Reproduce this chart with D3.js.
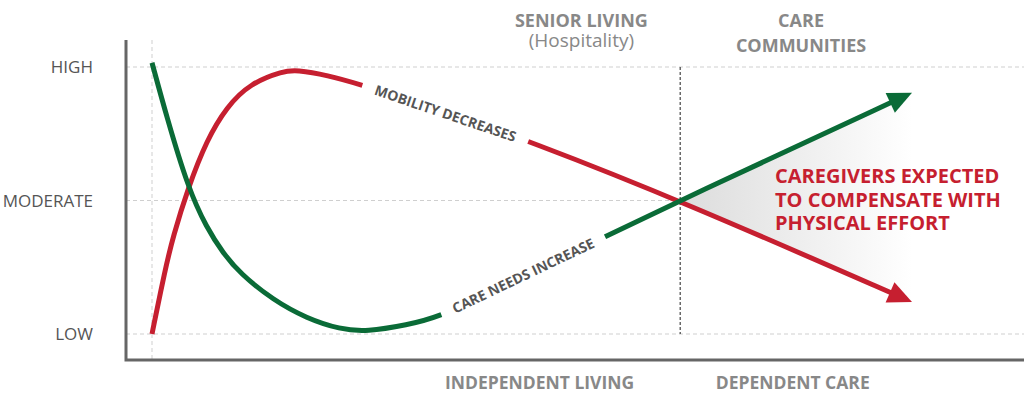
<!DOCTYPE html>
<html>
<head>
<meta charset="utf-8">
<script src="https://cdn.jsdelivr.net/npm/d3@7"></script>
<style>
  html, body { margin: 0; padding: 0; background: #fff; }
  svg { display: block; }
</style>
</head>
<body>
<div id="chart"></div>
<script>
// care-curve.js - mobility vs care needs across senior living stages

// levels on the y axis (0 = low, 2 = high)
const levels = ['LOW', 'MODERATE', 'HIGH'];

// mobility curve (red), x = progression 0..100
const mobilityX = [0, 1.71, 2.76, 4.74, 7.2, 9.83, 12.9, 17.3, 19.0, 23.0, 27.7, 37.9, 49.5, 69.5, 100];
const mobilityY = [0, 0.479, 0.727, 1.094, 1.453, 1.702, 1.877, 1.97, 1.978, 1.94, 1.865, 1.68, 1.448, 1.0, 0.24];

// care needs curve (green)
const careX = [0, 1.93, 4.74, 7.2, 9.38, 11.58, 15.96, 20.36, 24.74, 28.25, 33.5, 38.1, 48.4, 59.6, 69.5, 100];
const careY = [2.032, 1.627, 1.094, 0.794, 0.604, 0.454, 0.253, 0.117, 0.035, 0.017, 0.067, 0.129, 0.419, 0.729, 1.0, 1.807];

// where the inline labels sit (gap along the curve, in x units)
const mobilityGap = [27.7, 49.5];
const careGap = [38.1, 59.6];
const mobilityLabel = 'MOBILITY DECREASES';
const careLabel = 'CARE NEEDS INCREASE';

// stage split and stage names
const splitX = 69.5;
const topStages = [['SENIOR LIVING', '(Hospitality)'], ['CARE', 'COMMUNITIES']];
const bottomStages = ['INDEPENDENT LIVING', 'DEPENDENT CARE'];
const noteLines = ['CAREGIVERS EXPECTED', 'TO COMPENSATE WITH', 'PHYSICAL EFFORT'];

const RED = '#c61f30';
const GREEN = '#0a6b37';
const width = 1024, height = 406;

const svg = d3.select('#chart').append('svg')
  .attr('width', width)
  .attr('height', height);

const x = d3.scaleLinear().domain([0, 100]).range([152, 912]);
const y = d3.scaleLinear().domain([0, 2]).range([334, 67]);

const font = "'Open Sans', 'DejaVu Sans', sans-serif";

// gradient for the "compensate" wedge
const grad = svg.append('defs').append('linearGradient')
  .attr('id', 'wedge-grad')
  .attr('gradientUnits', 'userSpaceOnUse')
  .attr('x1', x(splitX)).attr('x2', x(100))
  .attr('y1', 0).attr('y2', 0);
grad.append('stop').attr('offset', '0%').attr('stop-color', '#dcdcdc');
grad.append('stop').attr('offset', '100%').attr('stop-color', '#ffffff');

// grid lines
svg.append('g').selectAll('line')
  .data(levels)
  .enter().append('line')
  .attr('x1', 126)
  .attr('x2', (d, i) => i === 1 ? x(splitX) : width)
  .attr('y1', (d, i) => y(i))
  .attr('y2', (d, i) => y(i))
  .attr('stroke', '#cfcfcf')
  .attr('stroke-width', 1)
  .attr('stroke-dasharray', '4,3');

svg.append('line')
  .attr('x1', x(0)).attr('x2', x(0))
  .attr('y1', 40).attr('y2', 360)
  .attr('stroke', '#cfcfcf')
  .attr('stroke-dasharray', '4,3');

// wedge between the two arrows
const mobEnd = [x(mobilityX[mobilityX.length - 1]), y(mobilityY[mobilityY.length - 1])];
const careEnd = [x(careX[careX.length - 1]), y(careY[careY.length - 1])];
svg.append('polygon')
  .attr('points', [[x(splitX), y(1)], careEnd, mobEnd].map(p => p.join(',')).join(' '))
  .attr('fill', 'url(#wedge-grad)');

// split line
svg.append('line')
  .attr('x1', x(splitX)).attr('x2', x(splitX))
  .attr('y1', y(2)).attr('y2', y(0))
  .attr('stroke', '#444')
  .attr('stroke-width', 1.2)
  .attr('stroke-dasharray', '3,2');

// axes
svg.append('path')
  .attr('d', `M126,40 V360 H${width}`)
  .attr('fill', 'none')
  .attr('stroke', '#666')
  .attr('stroke-width', 3);

svg.append('g').selectAll('text')
  .data(levels)
  .enter().append('text')
  .attr('x', 93)
  .attr('y', (d, i) => y(i))
  .attr('dy', '0.36em')
  .attr('text-anchor', 'end')
  .attr('fill', '#555')
  .style('font-family', font)
  .style('font-weight', 500)
  .style('font-size', '17px')
  .text(d => d);

const line = d3.line()
  .x(d => x(d[0]))
  .y(d => y(d[1]))
  .curve(d3.curveBasis);

// length along a path where it reaches a given x pixel
function lengthAtX(node, px) {
  let lo = 0, hi = node.getTotalLength();
  for (let k = 0; k < 40; k++) {
    const mid = (lo + hi) / 2;
    if (node.getPointAtLength(mid).x < px) lo = mid; else hi = mid;
  }
  return (lo + hi) / 2;
}

function drawCurve(xs, ys, gap, label, color) {
  const pts = xs.map((v, i) => [v, ys[i]]);
  const path = svg.append('path')
    .datum(pts)
    .attr('d', line)
    .attr('fill', 'none')
    .attr('stroke', color)
    .attr('stroke-width', 5);
  const node = path.node();
  const total = node.getTotalLength();
  const head = 24;
  const a = lengthAtX(node, x(gap[0]));
  const b = lengthAtX(node, x(gap[1]));
  path.attr('stroke-dasharray', `${a},${b - a},${total - head + 6 - b},${total}`);

  // arrow head
  const tip = node.getPointAtLength(total);
  const back = node.getPointAtLength(total - head);
  const dx = tip.x - back.x, dy = tip.y - back.y;
  const len = Math.hypot(dx, dy);
  const nx = -dy / len, ny = dx / len;
  const w = 11;
  svg.append('polygon')
    .attr('points', [
      [tip.x, tip.y],
      [back.x + nx * w, back.y + ny * w],
      [back.x - nx * w, back.y - ny * w]
    ].map(p => p.join(',')).join(' '))
    .attr('fill', color);

  // inline label in the gap
  const p0 = node.getPointAtLength(a);
  const p1 = node.getPointAtLength(b);
  const angle = Math.atan2(p1.y - p0.y, p1.x - p0.x) * 180 / Math.PI;
  svg.append('text')
    .attr('transform', `translate(${(p0.x + p1.x) / 2},${(p0.y + p1.y) / 2}) rotate(${angle})`)
    .attr('text-anchor', 'middle')
    .attr('dy', '0.36em')
    .attr('fill', '#555')
    .style('font-family', font)
    .style('font-weight', 700)
    .style('font-size', '14px')
    .text(label);
}

drawCurve(mobilityX, mobilityY, mobilityGap, mobilityLabel, RED);
drawCurve(careX, careY, careGap, careLabel, GREEN);

// stage headers (centres in x units, second-line baselines in px)
const headerX = [56.5, 85.4];
const headerY2 = [47, 52];
const header = svg.append('g');
topStages.forEach((lines, k) => {
  lines.forEach((t, i) => {
    const paren = t.startsWith('(');
    header.append('text')
      .attr('x', x(headerX[k]))
      .attr('y', i === 0 ? 27 : headerY2[k])
      .attr('text-anchor', 'middle')
      .attr('fill', '#888')
      .style('font-family', font)
      .style('font-weight', paren ? 400 : 700)
      .style('font-size', paren ? '19px' : '18px')
      .text(t);
  });
});

const footerX = [51, 84.3];
svg.append('g').selectAll('text')
  .data(bottomStages)
  .enter().append('text')
  .attr('x', (d, i) => x(footerX[i]))
  .attr('y', 389)
  .attr('text-anchor', 'middle')
  .attr('fill', '#888')
  .style('font-family', font)
  .style('font-weight', 700)
  .style('font-size', '17.5px')
  .text(d => d);

// annotation
svg.append('g').selectAll('text')
  .data(noteLines)
  .enter().append('text')
  .attr('x', 775)
  .attr('y', (d, i) => 183 + i * 23.5)
  .attr('fill', RED)
  .style('font-family', font)
  .style('font-weight', 700)
  .style('font-size', '20px')
  .text(d => d);
</script>
</body>
</html>
